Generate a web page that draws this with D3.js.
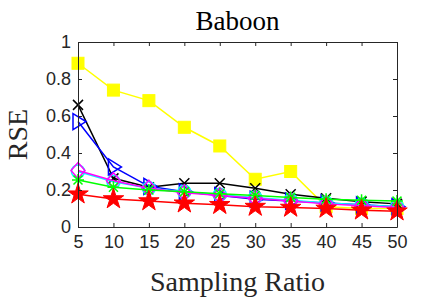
<!DOCTYPE html>
<html>
<head>
<meta charset="utf-8">
<script src="https://cdn.jsdelivr.net/npm/d3@7"></script>
<style>
body{margin:0;background:#fff;}
svg{display:block;}
</style>
</head>
<body>
<script>
(function(){

//chart data
var ratios = [5, 10, 15, 20, 25, 30, 35, 40, 45, 50];
var yellowVals  = [0.885, 0.74, 0.683, 0.539, 0.438, 0.258, 0.30, 0.11, 0.10, 0.10];
var blackVals   = [0.66, 0.263, 0.215, 0.236, 0.236, 0.209, 0.177, 0.155, 0.137, 0.125];
var blueVals    = [0.57, 0.325, 0.22, 0.19, 0.17, 0.15, 0.14, 0.13, 0.12, 0.11];
var cyanVals    = [0.30, 0.245, 0.21, 0.19, 0.175, 0.16, 0.145, 0.13, 0.12, 0.11];
var magentaVals = [0.305, 0.25, 0.21, 0.185, 0.17, 0.155, 0.14, 0.125, 0.115, 0.105];
var greenVals   = [0.254, 0.215, 0.20, 0.19, 0.18, 0.17, 0.16, 0.15, 0.145, 0.14];
var redVals     = [0.177, 0.151, 0.14, 0.128, 0.12, 0.11, 0.105, 0.10, 0.09, 0.085];
var yTicks = [0, 0.2, 0.4, 0.6, 0.8, 1];

var series = [
    {vals: yellowVals, color: "#ffff00", marker: "square"},
    {vals: blackVals, color: "#000000", marker: "cross"},
    {vals: blueVals, color: "#0000ff", marker: "triangle"},
    {vals: cyanVals, color: "#00ffff", marker: "circle"},
    {vals: magentaVals, color: "#ff00ff", marker: "diamond"},
    {vals: greenVals, color: "#00ff00", marker: "asterisk"},
    {vals: redVals, color: "#ff0000", marker: "star"}
];

var width = 438, height = 297;
var margin = {left: 78, top: 42, right: 41, bottom: 70};
var serif = "'Liberation Serif', 'DejaVu Serif', 'Times New Roman', Times, serif";

var svg = d3.select("body").append("svg")
    .attr("width", width)
    .attr("height", height);

var x = d3.scaleLinear().domain([5, 50]).range([margin.left, width - margin.right]);
var y = d3.scaleLinear().domain([0, 1]).range([height - margin.bottom, margin.top]);

//lines
var line = d3.line()
    .x(function(d, i){ return x(ratios[i]); })
    .y(function(d){ return y(d); });

var plot = svg.append("g");

series.forEach(function(s){
    plot.append("path")
        .datum(s.vals)
        .attr("fill", "none")
        .attr("stroke", s.color)
        .attr("stroke-width", 1.5)
        .attr("d", line);

    var g = plot.selectAll(null)
        .data(s.vals)
        .enter()
        .append("g")
        .attr("transform", function(d, i){ return "translate(" + x(ratios[i]) + "," + y(d) + ")"; });

    drawMarker(g, s.marker, s.color);
});

function drawMarker(g, type, color){
    if (type == "square"){
        g.append("rect")
            .attr("x", -6).attr("y", -6)
            .attr("width", 12).attr("height", 12)
            .attr("fill", color).attr("stroke", color);
    } else if (type == "cross"){
        g.append("path")
            .attr("d", "M-5,-5L5,5M-5,5L5,-5")
            .attr("stroke", color).attr("stroke-width", 1.5);
    } else if (type == "triangle"){
        g.append("path")
            .attr("d", "M-5,-8L8,0L-5,8Z")
            .attr("fill", "none").attr("stroke", color).attr("stroke-width", 1.5);
    } else if (type == "circle"){
        g.append("circle")
            .attr("r", 6.5)
            .attr("fill", "none").attr("stroke", color).attr("stroke-width", 1.5);
    } else if (type == "diamond"){
        g.append("path")
            .attr("d", "M0,-8L7,0L0,8L-7,0Z")
            .attr("fill", "none").attr("stroke", color).attr("stroke-width", 1.5);
    } else if (type == "asterisk"){
        g.append("path")
            .attr("d", "M0,-6L0,6M-6,0L6,0M-4.5,-4.5L4.5,4.5M-4.5,4.5L4.5,-4.5")
            .attr("stroke", color).attr("stroke-width", 1.5);
    } else if (type == "star"){
        g.append("path")
            .attr("d", d3.symbol().type(d3.symbolStar).size(130))
            .attr("fill", color).attr("stroke", color);
    }
}

//axes box
var axisColor = "#262626";
var xAxis = svg.append("g")
    .attr("transform", "translate(0," + y(0) + ")")
    .call(d3.axisBottom(x).tickValues(ratios).tickSizeInner(-4).tickSizeOuter(0).tickPadding(8));
var xTop = svg.append("g")
    .attr("transform", "translate(0," + y(1) + ")")
    .call(d3.axisTop(x).tickValues(ratios).tickSizeInner(-4).tickSizeOuter(0).tickFormat(""));
var yAxis = svg.append("g")
    .attr("transform", "translate(" + x(5) + ",0)")
    .call(d3.axisLeft(y).tickValues(yTicks).tickSizeInner(-4).tickSizeOuter(0).tickPadding(7)
        .tickFormat(function(d){ return d3.format("")(d); }));
var yRight = svg.append("g")
    .attr("transform", "translate(" + x(50) + ",0)")
    .call(d3.axisRight(y).tickValues(yTicks).tickSizeInner(-4).tickSizeOuter(0).tickFormat(""));

[xAxis, xTop, yAxis, yRight].forEach(function(a){
    a.selectAll("path, line").attr("stroke", axisColor);
    a.selectAll("text")
        .attr("fill", axisColor)
        .style("font-family", "'Liberation Sans', Arial, sans-serif")
        .style("font-size", "18px");
});

//labels
svg.append("text")
    .attr("x", (x(5) + x(50)) / 2)
    .attr("y", 30)
    .attr("text-anchor", "middle")
    .style("font-family", serif)
    .style("font-size", "27px")
    .text("Baboon");

svg.append("text")
    .attr("x", (x(5) + x(50)) / 2)
    .attr("y", 291)
    .attr("text-anchor", "middle")
    .attr("fill", axisColor)
    .style("font-family", serif)
    .style("font-size", "28px")
    .text("Sampling Ratio");

svg.append("text")
    .attr("transform", "translate(27," + (y(0.5)) + ") rotate(-90)")
    .attr("text-anchor", "middle")
    .attr("fill", axisColor)
    .style("font-family", serif)
    .style("font-size", "28px")
    .text("RSE");

})();
</script>
</body>
</html>
